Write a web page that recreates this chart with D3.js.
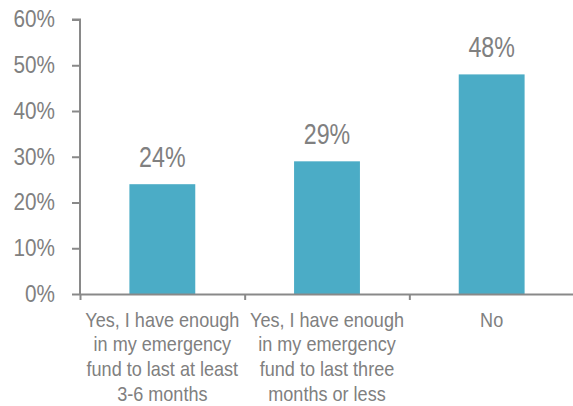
<!DOCTYPE html>
<html><head><meta charset="utf-8">
<script src="https://cdn.jsdelivr.net/npm/d3@7"></script>
<style>
html,body{margin:0;padding:0;background:#fff;}
svg{display:block;}
text{font-family:"Liberation Sans Narrow","Arial Narrow","Liberation Sans",Arial,sans-serif;fill:#808080;}
</style></head>
<body><svg id="c" width="573" height="406"></svg>
<script>
const categories = [
  ["Yes, I have enough","in my emergency","fund to last at least","3-6 months"],
  ["Yes, I have enough","in my emergency","fund to last three","months or less"],
  ["No"]
];
const values = [24, 29, 48];
const yTicks = [0, 10, 20, 30, 40, 50, 60];

const svg = d3.select("#c");
const m = {left: 80, right: 574, top: 19.5, bottom: 294};
const x = d3.scaleBand().domain(d3.range(categories.length)).range([m.left, m.right]).paddingInner(0.6).paddingOuter(0.3);
const y = d3.scaleLinear().domain([0, 60]).range([m.bottom, m.top]);
const axisColor = "#898989";

// condense text horizontally (narrow face is not installed)
function condense(sel, ratio){
  sel.each(function(){
    const w = this.getComputedTextLength();
    d3.select(this).attr("textLength", w*ratio).attr("lengthAdjust","spacingAndGlyphs");
  });
}

// bars
svg.selectAll("rect.bar").data(values).enter().append("rect")
  .attr("class","bar")
  .attr("x",(d,i)=>x(i)).attr("width",x.bandwidth())
  .attr("y",d=>y(d)).attr("height",d=>y(0)-y(d))
  .attr("fill","#4BACC6");

// value labels
const vl = svg.selectAll("text.val").data(values).enter().append("text")
  .attr("class","val")
  .attr("x",(d,i)=>x(i)+x.bandwidth()/2)
  .attr("y",d=>y(d)-17.5)
  .attr("text-anchor","middle")
  .style("font-size","29px")
  .text(d=>d+"%");
condense(vl, 0.80);

// y axis
const yAxis = d3.axisLeft(y).tickValues(yTicks).tickFormat(d=>d+"%").tickSize(8).tickPadding(17);
const gy = svg.append("g").attr("transform",`translate(${m.left},0)`).call(yAxis);
gy.attr("font-family",null).attr("font-size",null);
gy.select(".domain").attr("stroke",axisColor).attr("stroke-width",2).attr("d",`M-8,${y(60)}H0V${y(0)}`);
gy.selectAll(".tick line").attr("stroke",axisColor).attr("stroke-width",2);
const yt = gy.selectAll(".tick text").style("font-size","23px").attr("fill","#808080");
condense(yt, 0.90);

// x axis
const xAxis = d3.axisBottom(d3.scaleLinear().domain([0,3]).range([m.left,m.right])).tickValues([0,1,2,3]).tickFormat("").tickSize(6).tickSizeOuter(0);
const gx = svg.append("g").attr("transform",`translate(0,${y(0)})`).call(xAxis);
gx.select(".domain").attr("stroke",axisColor).attr("stroke-width",2);
gx.selectAll(".tick line").attr("stroke",axisColor).attr("stroke-width",2);

// category labels
categories.forEach((lines,i)=>{
  lines.forEach((ln,j)=>{
    const t = svg.append("text").attr("class","cat")
      .attr("text-anchor","middle")
      .attr("x",x(i)+x.bandwidth()/2).attr("y",326.7+j*24.67)
      .style("font-size","21px")
      .text(ln);
    condense(t, 0.86);
  });
});
</script></body></html>
